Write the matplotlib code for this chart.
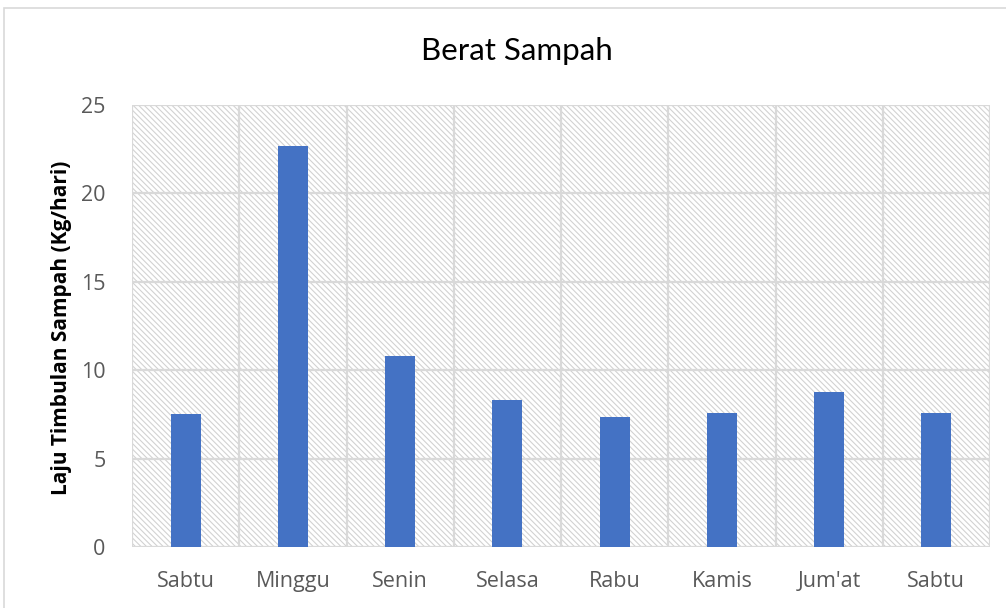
import matplotlib
matplotlib.use("Agg")
import matplotlib.pyplot as plt
from matplotlib.patches import Rectangle
import numpy as np

# data
days = ["Sabtu", "Minggu", "Senin", "Selasa", "Rabu", "Kamis", "Jum'at", "Sabtu"]
berat = [7.52, 22.68, 10.8, 8.31, 7.35, 7.58, 8.77, 7.58]
yticks = [0, 5, 10, 15, 20, 25]

plt.rcParams['font.family'] = ['Open Sans', 'DejaVu Sans']
plt.rcParams['hatch.color'] = '#d2d2d2'
plt.rcParams['hatch.linewidth'] = 0.8

fig = plt.figure(figsize=(10.06, 6.08), dpi=100)
ax = fig.add_axes([132/1006, 1 - 547/608, (990-132)/1006, (547-105)/608])

# outer chart frame
fig.patches.append(Rectangle((4/1006, -0.1), 1.2, 1 - 8/608 + 0.1, transform=fig.transFigure,
                             fill=False, edgecolor='#d9d9d9', linewidth=1.2))

x = np.arange(len(days))
ax.set_xlim(-0.5, len(days) - 0.5)
ax.set_ylim(0, 25)

# hatched plot area
ax.add_patch(Rectangle((0, 0), 1, 1, transform=ax.transAxes, facecolor='white',
                       hatch='\\\\\\\\\\\\', edgecolor='#d2d2d2', linewidth=0, zorder=0))

ax.bar(x, berat, width=0.28, color='#4472c4', zorder=3)

for xv in np.arange(-0.5, len(days), 1):
    ax.axvline(xv, color='#d9d9d9', linewidth=1.6, zorder=1)
for yv in yticks:
    ax.axhline(yv, color='#d9d9d9', linewidth=1.6, zorder=1)

for s in ax.spines.values():
    s.set_visible(False)

ax.set_xticks(x)
ax.set_xticklabels(days)
ax.set_yticks(yticks)
ax.tick_params(length=0, labelsize=15.5, labelcolor='#595959')
ax.tick_params(axis='x', pad=17)
ax.tick_params(axis='y', pad=19)

ax.set_ylabel("Laju Timbulan Sampah (Kg/hari)", fontsize=15, fontweight='bold', color='black',
              va='center')
ax.yaxis.set_label_coords(-0.0816, 0.497)
fig.text(517/1006, 1 - 51/608, "Berat Sampah", ha='center', va='center', fontsize=22.5,
         color='black', family=['Lato', 'DejaVu Sans'])

fig.savefig("out.png", dpi=100)
